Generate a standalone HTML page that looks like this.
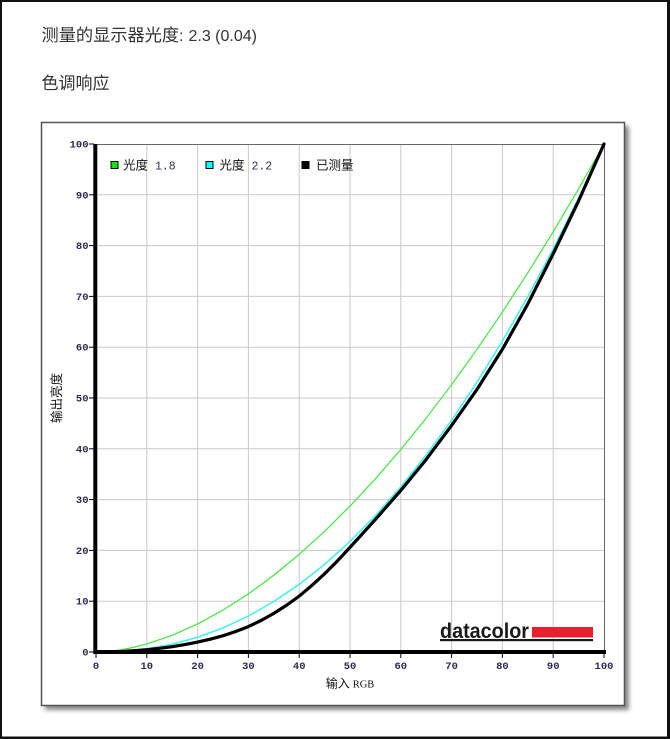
<!DOCTYPE html>
<html><head><meta charset="utf-8">
<style>
html,body{margin:0;padding:0;background:#fff;}
body{width:670px;height:739px;overflow:hidden;}
svg{display:block;}
</style></head>
<body>
<svg width="670" height="739" viewBox="0 0 670 739" xmlns="http://www.w3.org/2000/svg">
<defs>
<filter id="sh" x="-5%" y="-5%" width="115%" height="115%"><feGaussianBlur stdDeviation="2.2"/></filter>
</defs>
<rect x="0" y="0" width="670" height="739" fill="#fff"/>
<!-- outer frame -->
<rect x="1" y="1" width="667" height="736.5" fill="none" stroke="#111" stroke-width="2"/>
<rect x="667" y="0" width="3" height="739" fill="#111"/>
<rect x="0" y="737" width="670" height="2" fill="#111"/>

<!-- header texts -->
<text x="41.5" y="41" font-family="'Liberation Sans','Noto Sans CJK SC',sans-serif" font-size="16" fill="#333"><tspan font-size="17.2">测量的显示器光度</tspan>:<tspan dx="5">2.3 (0.04)</tspan></text>
<text x="41.5" y="89" font-family="'Liberation Sans','Noto Sans CJK SC',sans-serif" font-size="17" fill="#333">色调响应</text>

<!-- chart box shadow -->
<rect x="45" y="126" width="584" height="584" fill="#888" filter="url(#sh)"/>
<rect x="41.5" y="122.5" width="583" height="583" fill="#fff" stroke="#555" stroke-width="1.5"/>

<!-- grid -->
<g stroke="#cacaca" stroke-width="1">
<line x1="146.8" y1="144" x2="146.8" y2="652"/>
<line x1="197.6" y1="144" x2="197.6" y2="652"/>
<line x1="248.4" y1="144" x2="248.4" y2="652"/>
<line x1="299.2" y1="144" x2="299.2" y2="652"/>
<line x1="350" y1="144" x2="350" y2="652"/>
<line x1="400.8" y1="144" x2="400.8" y2="652"/>
<line x1="451.6" y1="144" x2="451.6" y2="652"/>
<line x1="502.4" y1="144" x2="502.4" y2="652"/>
<line x1="553.2" y1="144" x2="553.2" y2="652"/>
<line x1="96" y1="601.2" x2="604" y2="601.2"/>
<line x1="96" y1="550.4" x2="604" y2="550.4"/>
<line x1="96" y1="499.6" x2="604" y2="499.6"/>
<line x1="96" y1="448.8" x2="604" y2="448.8"/>
<line x1="96" y1="398" x2="604" y2="398"/>
<line x1="96" y1="347.2" x2="604" y2="347.2"/>
<line x1="96" y1="296.4" x2="604" y2="296.4"/>
<line x1="96" y1="245.6" x2="604" y2="245.6"/>
<line x1="96" y1="194.8" x2="604" y2="194.8"/>
</g>
<!-- top & right frame -->
<line x1="96" y1="144.5" x2="604.5" y2="144.5" stroke="#666" stroke-width="1"/>
<line x1="604.5" y1="144" x2="604.5" y2="652" stroke="#666" stroke-width="1"/>

<!-- curves -->
<g transform="translate(96,652) scale(5.08,-5.08)" fill="none" stroke-linejoin="round" stroke-linecap="round">
<polyline vector-effect="non-scaling-stroke" stroke="#3ee83e" stroke-width="1.2" points="0,0 2.5,0.13 5,0.455 7.5,0.94 10,1.585 15,3.29 20,5.52 25,8.25 30,11.45 35,15.11 40,19.22 45,23.76 50,28.72 55,34.09 60,39.87 65,46.05 70,52.62 75,59.58 80,66.92 85,74.64 90,82.72 95,91.18 100,100"/>
<polyline vector-effect="non-scaling-stroke" stroke="#44f2f2" stroke-width="1.6" points="0,0 5,0.137 10,0.631 15,1.54 20,2.9 25,4.74 30,7.07 35,9.93 40,13.32 45,17.26 50,21.76 55,26.84 60,32.5 65,38.76 70,45.63 75,53.11 80,61.21 85,69.94 90,79.31 95,89.33 100,100"/>
<polyline vector-effect="non-scaling-stroke" stroke="#000" stroke-width="3.2" points="0,0 5,0.1 7.5,0.25 10,0.45 12.5,0.72 15,1.05 17.5,1.47 20,1.95 22.5,2.53 25,3.2 27.5,4.04 30,5.0 32.5,6.2 35,7.6 37.5,9.2 40,11.0 42.5,13.1 45,15.4 47.5,17.9 50,20.6 55,26.1 60,31.8 65,37.9 70,44.6 75,51.7 80,59.6 85,68.5 90,78.4 95,88.8 100,100"/>
</g>

<!-- axes -->
<line x1="95.3" y1="144" x2="95.3" y2="654" stroke="#000" stroke-width="4"/>
<line x1="93.5" y1="652" x2="606" y2="652" stroke="#000" stroke-width="4"/>

<!-- ticks -->
<g stroke="#000" stroke-width="1">
<line x1="89" y1="652" x2="94" y2="652"/>
<line x1="89" y1="601.2" x2="94" y2="601.2"/>
<line x1="89" y1="550.4" x2="94" y2="550.4"/>
<line x1="89" y1="499.6" x2="94" y2="499.6"/>
<line x1="89" y1="448.8" x2="94" y2="448.8"/>
<line x1="89" y1="398" x2="94" y2="398"/>
<line x1="89" y1="347.2" x2="94" y2="347.2"/>
<line x1="89" y1="296.4" x2="94" y2="296.4"/>
<line x1="89" y1="245.6" x2="94" y2="245.6"/>
<line x1="89" y1="194.8" x2="94" y2="194.8"/>
<line x1="89" y1="144" x2="94" y2="144"/>
<line x1="96" y1="654" x2="96" y2="658"/>
<line x1="146.8" y1="654" x2="146.8" y2="658"/>
<line x1="197.6" y1="654" x2="197.6" y2="658"/>
<line x1="248.4" y1="654" x2="248.4" y2="658"/>
<line x1="299.2" y1="654" x2="299.2" y2="658"/>
<line x1="350" y1="654" x2="350" y2="658"/>
<line x1="400.8" y1="654" x2="400.8" y2="658"/>
<line x1="451.6" y1="654" x2="451.6" y2="658"/>
<line x1="502.4" y1="654" x2="502.4" y2="658"/>
<line x1="553.2" y1="654" x2="553.2" y2="658"/>
<line x1="604" y1="654" x2="604" y2="658"/>
</g>

<!-- y tick labels -->
<g font-family="'Liberation Mono',monospace" font-weight="bold" font-size="10.5" fill="#2b2b4f" text-anchor="end">
<text x="88.5" y="655.5">0</text>
<text x="88.5" y="604.7">10</text>
<text x="88.5" y="553.9">20</text>
<text x="88.5" y="503.1">30</text>
<text x="88.5" y="452.3">40</text>
<text x="88.5" y="401.5">50</text>
<text x="88.5" y="350.7">60</text>
<text x="88.5" y="299.9">70</text>
<text x="88.5" y="249.1">80</text>
<text x="88.5" y="198.3">90</text>
<text x="88.5" y="147.5">100</text>
</g>
<!-- x tick labels -->
<g font-family="'Liberation Mono',monospace" font-weight="bold" font-size="10.5" fill="#2b2b4f" text-anchor="middle">
<text x="96" y="669">0</text>
<text x="146.8" y="669">10</text>
<text x="197.6" y="669">20</text>
<text x="248.4" y="669">30</text>
<text x="299.2" y="669">40</text>
<text x="350" y="669">50</text>
<text x="400.8" y="669">60</text>
<text x="451.6" y="669">70</text>
<text x="502.4" y="669">80</text>
<text x="553.2" y="669">90</text>
<text x="604" y="669">100</text>
</g>

<!-- axis titles -->
<text x="350" y="687.5" text-anchor="middle" font-family="'Liberation Serif','Noto Sans CJK SC',serif" font-size="12" fill="#111"><tspan font-family="'Noto Sans CJK SC',sans-serif">输入</tspan> <tspan font-size="10.5">RGB</tspan></text>
<text transform="translate(61,398) rotate(-90)" text-anchor="middle" font-family="'Noto Sans CJK SC',sans-serif" font-size="12.5" fill="#111">输出亮度</text>

<!-- legend -->
<rect x="111" y="161.5" width="7" height="7" fill="#00ee00" stroke="#000" stroke-width="1"/>
<text x="123" y="169.5" font-family="'Noto Sans CJK SC',sans-serif" font-size="12.5" fill="#111">光度</text>
<text x="155" y="169.5" font-family="'Liberation Mono',monospace" font-size="11.5" fill="#333355">1.8</text>
<rect x="206" y="161.5" width="7" height="7" fill="#00ffff" stroke="#000" stroke-width="1"/>
<text x="219.5" y="169.5" font-family="'Noto Sans CJK SC',sans-serif" font-size="12.5" fill="#111">光度</text>
<text x="251.5" y="169.5" font-family="'Liberation Mono',monospace" font-size="11.5" fill="#333355">2.2</text>
<rect x="302" y="161.5" width="7" height="7" fill="#000" stroke="#000" stroke-width="1"/>
<text x="316" y="169.5" font-family="'Noto Sans CJK SC',sans-serif" font-size="12.5" fill="#111">已测量</text>

<!-- datacolor logo -->
<text x="440" y="638" font-family="'Liberation Sans',sans-serif" font-weight="bold" font-size="21" fill="#1a1a1a" textLength="89" lengthAdjust="spacingAndGlyphs">datacolor</text>
<rect x="532" y="627" width="61" height="10.5" fill="#e8202e"/>
<rect x="440" y="639" width="153" height="2.2" fill="#1a1a1a"/>
</svg>
</body></html>
